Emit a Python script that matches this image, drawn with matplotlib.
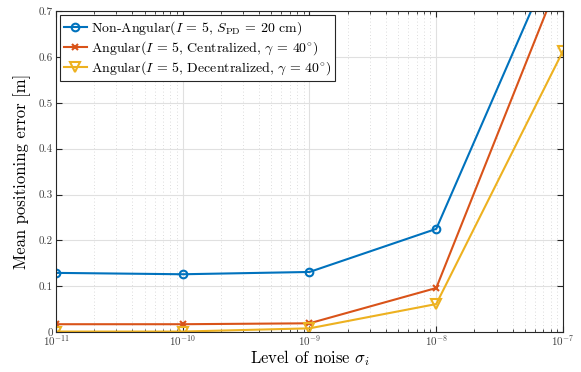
import numpy as np
import matplotlib
matplotlib.use('Agg')
import matplotlib.pyplot as plt

plt.rcParams['font.family'] = 'serif'
plt.rcParams['font.serif'] = ['cmr10']
plt.rcParams['mathtext.fontset'] = 'cm'
plt.rcParams['axes.formatter.use_mathtext'] = True

# noise level
sigma = np.array([1e-11, 1e-10, 1e-9, 1e-8, 1e-7])
# mean positioning error (m)
err_nonang = np.array([0.129, 0.126, 0.131, 0.225, 0.86])
err_central = np.array([0.017, 0.017, 0.019, 0.096, 0.79])
err_decentral = np.array([0.001, 0.001, 0.008, 0.061, 0.613])

labels = [r'Non-Angular($I$ = 5, $S_{\rm PD}$ = 20 cm)',
          r'Angular($I$ = 5, Centralized, $\gamma$ = 40$^{\circ}$)',
          r'Angular($I$ = 5, Decentralized, $\gamma$ = 40$^{\circ}$)']
yticks = [0, 0.1, 0.2, 0.3, 0.4, 0.5, 0.6, 0.7]
ytick_labels = ['0', '0.1', '0.2', '0.3', '0.4', '0.5', '0.6', '0.7']

fig = plt.figure(figsize=(5.81, 3.72), dpi=100)
ax = fig.add_axes([0.0964, 0.1075, 0.8726, 0.8625])

ax.semilogx(sigma, err_nonang, '-o', color='#0072BD', lw=1.5, ms=5.5,
            mfc='none', mew=1.5, label=labels[0])
ax.semilogx(sigma, err_central, '-x', color='#D95319', lw=1.5, ms=4.5,
            mew=1.5, label=labels[1])
ax.semilogx(sigma, err_decentral, '-v', color='#EDB120', lw=1.5, ms=6.5,
            mfc='none', mew=1.5, label=labels[2])

ax.set_xlim(1e-11, 1e-7)
ax.set_ylim(0, 0.7)
ax.set_yticks(yticks)
ax.set_yticklabels(ytick_labels)
ax.set_xticks(sigma)
ax.grid(True, which='major', color='#e0e0e0', lw=0.8)
ax.grid(True, which='minor', color='#d0d0d0', lw=0.6, ls=(0, (1, 3)))
ax.set_axisbelow(True)
ax.tick_params(which='both', direction='in', top=True, right=True,
               labelsize=8, color='#262626', labelcolor='#404040')
ax.tick_params(axis='x', which='major', pad=1)
ax.tick_params(axis='y', which='major', pad=2)
ax.tick_params(which='major', length=4)
ax.tick_params(which='minor', length=2)
for s in ax.spines.values():
    s.set_color('#262626')
    s.set_linewidth(0.8)

ax.set_xlabel(r'Level of noise $\sigma_i$', fontsize=12, labelpad=0)
ax.set_ylabel('Mean positioning error [m]', fontsize=12, labelpad=6)

leg = ax.legend(loc='upper left', fontsize=10, frameon=True, fancybox=False,
                edgecolor='#262626', framealpha=1, borderpad=0.3,
                labelspacing=0.15, handlelength=1.6, handletextpad=0.3,
                borderaxespad=0.3)
leg.get_frame().set_linewidth(0.8)

fig.savefig('out.png', dpi=100)
